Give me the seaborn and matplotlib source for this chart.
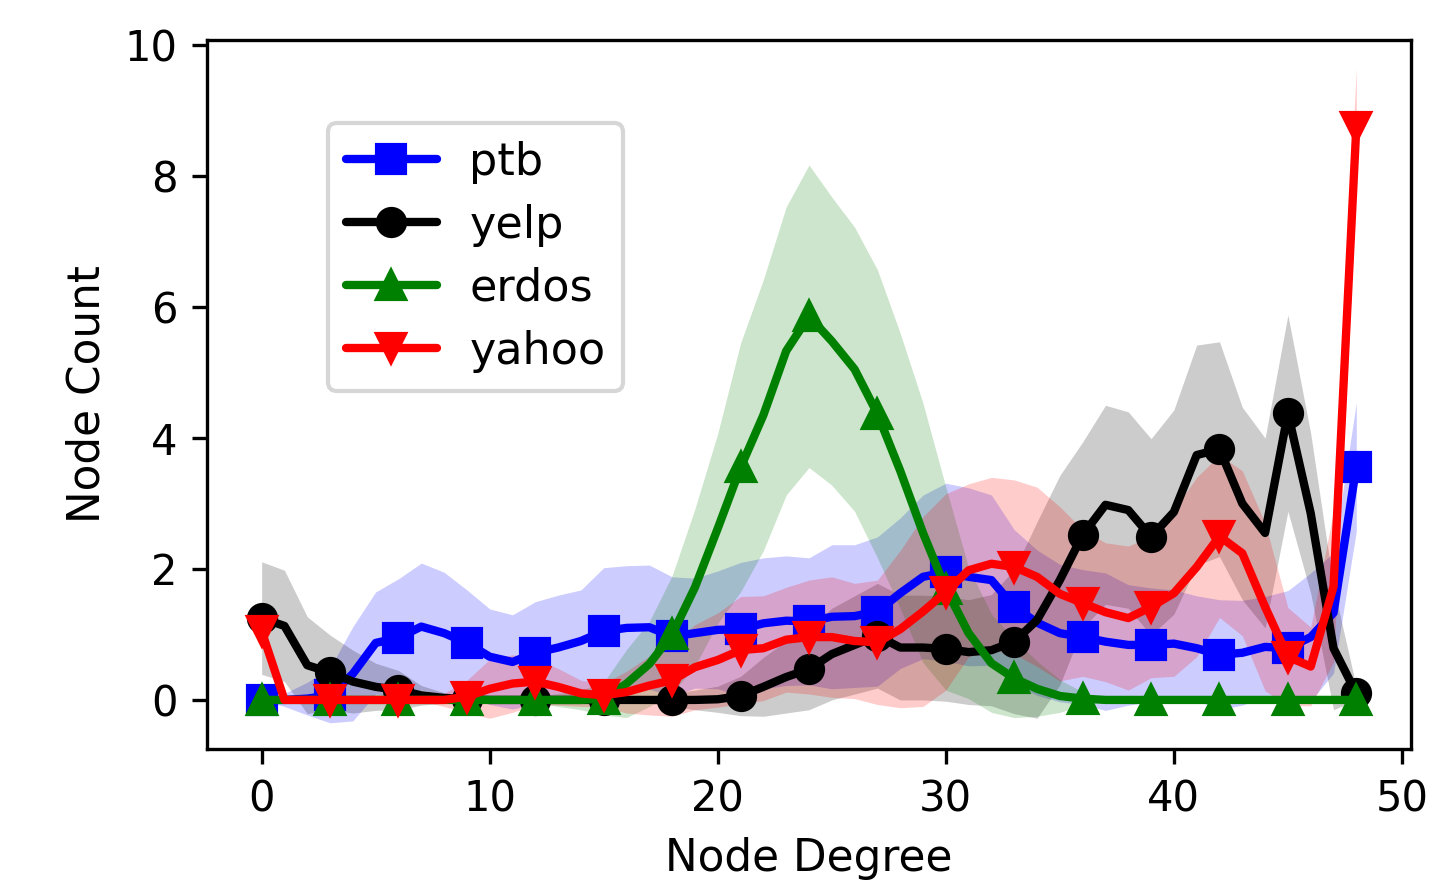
import matplotlib
matplotlib.use("Agg")
import matplotlib.pyplot as plt
import numpy as np
import pandas as pd
import seaborn as sns

degree = list(range(49))

ptb_mean = [0.0, 0.0, 0.02, 0.07, 0.4, 0.87, 0.95, 1.12, 1.02, 0.87,
            0.66, 0.58, 0.72, 0.8, 0.9, 1.05, 1.1, 1.11, 0.97, 1.02,
            1.07, 1.08, 1.17, 1.21, 1.2, 1.27, 1.28, 1.35, 1.63, 1.88,
            1.95, 1.88, 1.83, 1.42, 1.18, 1.02, 0.96, 0.89, 0.84, 0.84,
            0.86, 0.79, 0.69, 0.72, 0.81, 0.79, 0.96, 1.33, 3.56]
ptb_std = [0.0, 0.1, 0.25, 0.42, 0.72, 0.78, 0.9, 0.97, 0.93, 0.81,
           0.73, 0.72, 0.78, 0.8, 0.78, 0.97, 0.95, 0.95, 0.91, 0.84,
           0.9, 1.02, 1.0, 0.99, 0.97, 1.1, 1.09, 1.14, 1.15, 1.25,
           1.36, 1.36, 1.3, 1.18, 1.11, 1.05, 1.03, 1.05, 0.92, 0.87,
           0.82, 0.8, 0.84, 0.8, 0.77, 0.88, 0.98, 0.92, 0.98]

yelp_mean = [1.25, 1.13, 0.53, 0.42, 0.28, 0.2, 0.15, 0.07, 0.03, 0.01,
             0.0, 0.0, 0.0, 0.0, 0.0, 0.0, 0.0, 0.0, 0.0, 0.0,
             0.01, 0.06, 0.2, 0.35, 0.47, 0.7, 0.84, 0.98, 0.8, 0.8,
             0.78, 0.73, 0.76, 0.89, 1.22, 1.83, 2.52, 2.98, 2.9, 2.49,
             2.87, 3.74, 3.83, 3.0, 2.55, 4.38, 2.85, 0.79, 0.1]
yelp_std = [0.86, 0.85, 0.74, 0.57, 0.48, 0.36, 0.3, 0.15, 0.08, 0.05,
            0.03, 0.03, 0.03, 0.03, 0.03, 0.03, 0.03, 0.05, 0.1, 0.15,
            0.2, 0.3, 0.45, 0.55, 0.62, 0.7, 0.75, 0.8, 0.8, 0.8,
            0.8, 0.8, 0.85, 1.1, 1.5, 1.6, 1.42, 1.52, 1.5, 1.5,
            1.56, 1.68, 1.64, 1.47, 1.45, 1.5, 1.22, 0.94, 0.1]

erdos_mean = [0.0] * 15 + [0.02, 0.25, 0.55, 1.0, 1.72, 2.62, 3.55, 4.35, 5.33,
                           5.86, 5.48, 5.05, 4.37, 3.5, 2.55, 1.7, 1.02, 0.56,
                           0.33, 0.17, 0.06, 0.02] + [0.0] * 12
erdos_std = [0.0] * 12 + [0.05, 0.1, 0.15, 0.25, 0.52, 0.65, 0.9, 1.2, 1.45,
                          1.9, 2.07, 2.2, 2.31, 2.2, 2.17, 2.2, 2.1, 1.98,
                          1.55, 1.0, 0.75, 0.6, 0.42, 0.25, 0.1] + [0.0] * 12

yahoo_mean = [1.05, 0.0, 0.0, 0.0, 0.0, 0.0, 0.0, 0.0, 0.0, 0.05,
              0.17, 0.25, 0.28, 0.2, 0.1, 0.07, 0.12, 0.22, 0.3, 0.5,
              0.61, 0.76, 0.79, 0.92, 0.96, 0.96, 0.9, 0.88, 1.08, 1.35,
              1.65, 1.98, 2.08, 2.03, 1.88, 1.62, 1.48, 1.34, 1.25, 1.42,
              1.63, 2.03, 2.5, 2.24, 1.42, 0.66, 0.51, 1.73, 8.75]
yahoo_std = [0.1, 0.0, 0.0, 0.0, 0.0, 0.0, 0.0, 0.02, 0.1, 0.25,
             0.45, 0.44, 0.35, 0.28, 0.2, 0.18, 0.32, 0.45, 0.55, 0.65,
             0.72, 0.82, 0.8, 0.8, 0.87, 0.92, 0.88, 0.95, 1.2, 1.45,
             1.5, 1.32, 1.32, 1.33, 1.37, 1.33, 1.12, 1.06, 1.1, 1.08,
             1.27, 1.37, 1.24, 1.26, 1.28, 0.75, 0.6, 1.15, 0.9]

series = [
    ("ptb", ptb_mean, ptb_std, "b", "s"),
    ("yelp", yelp_mean, yelp_std, "k", "o"),
    ("erdos", erdos_mean, erdos_std, "g", "^"),
    ("yahoo", yahoo_mean, yahoo_std, "r", "v"),
]

sns.set_style("ticks", {"axes.edgecolor": "black", "xtick.color": "black",
                        "ytick.color": "black", "text.color": "black",
                        "axes.labelcolor": "black"})
plt.rcParams["font.family"] = ["DejaVu Sans"]
plt.rcParams["font.size"] = 10

fig = plt.figure(figsize=(4.8, 2.96), dpi=300)
ax = fig.add_axes([0.1437, 0.1565, 0.8362, 0.7985])

for name, mean, std, color, marker in series:
    df = pd.DataFrame({"degree": degree, "count": mean})
    sns.lineplot(x="degree", y="count", data=df, ax=ax, color=color,
                 marker=marker, markevery=3, markersize=6.5, linewidth=2,
                 markeredgecolor=color, markeredgewidth=1, label=name)
    lo = np.array(mean) - np.array(std)
    hi = np.array(mean) + np.array(std)
    ax.fill_between(degree, lo, hi, color=color, alpha=0.2, linewidth=0)

ax.set_xlim(-2.4, 50.4)
ax.set_ylim(-0.75, 10.08)
ax.set_xticks(np.arange(0, 51, 10))
ax.set_yticks(np.arange(0, 11, 2))
ax.tick_params(labelsize=10, width=0.8, length=3.5)
for s in ax.spines.values():
    s.set_linewidth(0.8)
ax.set_xlabel("Node Degree", fontsize=10.5)
ax.set_ylabel("Node Count", fontsize=10.5)

ax.legend(loc="upper left", bbox_to_anchor=(0.1005, 0.883), borderaxespad=0,
          frameon=True, fancybox=True, edgecolor="0.8", framealpha=0.8,
          fontsize=10.7, handlelength=2.05, handletextpad=0.72,
          labelspacing=0.45, borderpad=0.4)

fig.savefig("out.png", dpi=300)
